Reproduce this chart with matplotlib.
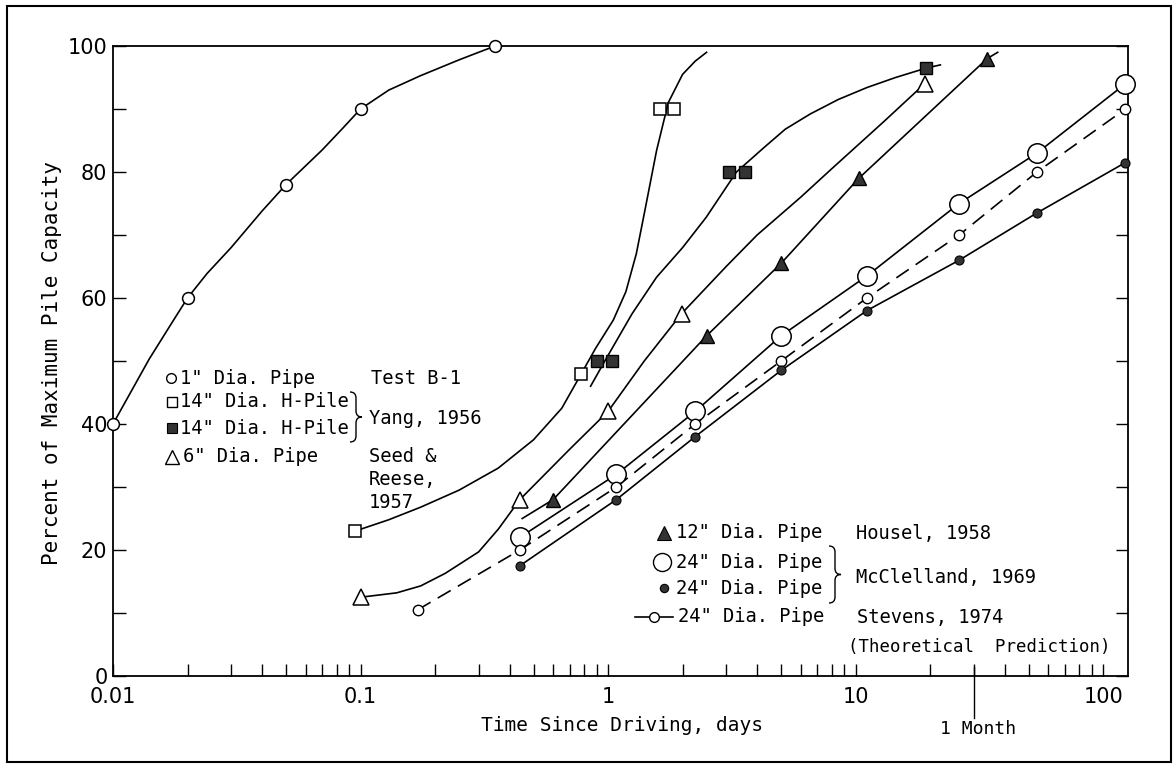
import matplotlib
matplotlib.use("Agg")
import matplotlib.pyplot as plt
from matplotlib.patches import Rectangle, PathPatch
from matplotlib.path import Path

# ---------------- data ----------------
# 1" Dia. Pipe, Test B-1
pipe1_x = [0.01, 0.02, 0.05, 0.1, 0.35]
pipe1_y = [40, 60, 78, 90, 100]
pipe1_curve_x = [0.01, 0.014, 0.017, 0.02, 0.024, 0.03, 0.04, 0.05, 0.07, 0.085, 0.1,
                 0.13, 0.175, 0.25, 0.3, 0.35]
pipe1_curve_y = [40, 50.3, 55.6, 60, 63.9, 68, 73.8, 78, 83.5, 87, 90,
                 93, 95.3, 97.8, 99, 100]

# 14" Dia. H-Pile (open squares), Yang 1956
hopen_x = [0.095, 0.78, 1.62, 1.85]
hopen_y = [23, 48, 90, 90]
hopen_curve_x = [0.095, 0.13, 0.175, 0.25, 0.36, 0.5, 0.65, 0.78, 0.89, 1.05, 1.18, 1.3,
                 1.41, 1.57, 1.75, 2.0, 2.25, 2.5]
hopen_curve_y = [23, 24.8, 26.8, 29.5, 33, 37.5, 42.5, 48, 52, 56.5, 61, 67,
                 74, 83.4, 91, 95.5, 97.6, 99]

# 14" Dia. H-Pile (filled squares), Yang 1956
hfill_x = [0.90, 1.04, 3.08, 3.56, 19.3]
hfill_y = [50, 50, 80, 80, 96.5]
hfill_curve_x = [0.85, 0.97, 1.25, 1.57, 2.0, 2.49, 3.3, 4.27, 5.2, 6.55, 8.5, 11.1, 14.5, 19.3, 22]
hfill_curve_y = [46, 50, 57.5, 63.3, 68, 72.8, 80, 83.9, 86.8, 89.2, 91.5, 93.4, 95, 96.5, 97]

# 6" Dia. Pipe (open triangles), Seed & Reese 1957
pipe6_x = [0.1, 0.44, 1.0, 1.98, 19]
pipe6_y = [12.5, 28, 42, 57.5, 94]
pipe6_curve_x = [0.1, 0.14, 0.175, 0.22, 0.3, 0.36, 0.44, 0.7, 1.0, 1.4, 1.98, 3.0, 4.0, 6.0, 8.0, 13, 19]
pipe6_curve_y = [12.5, 13.2, 14.3, 16.3, 19.7, 23.3, 28, 36, 42, 50, 57.5, 65, 70, 76, 80.5, 88, 94]

# 12" Dia. Pipe (filled triangles), Housel 1958
housel_x = [0.6, 2.5, 5.0, 10.3, 34]
housel_y = [28, 54, 65.5, 79, 98]
housel_curve_x = [0.45, 0.6, 2.5, 5.0, 10.3, 34, 37.5]
housel_curve_y = [25, 28, 54, 65.5, 79, 98, 99]

# 24" Dia. Pipe, McClelland 1969 (large open circles / small filled circles)
mc_open_x = [0.44, 1.08, 2.25, 5.0, 11.1, 26.2, 54, 123]
mc_open_y = [22, 32, 42, 54, 63.5, 75, 83, 94]
mc_fill_x = [0.44, 1.08, 2.25, 5.0, 11.1, 26.2, 54, 123]
mc_fill_y = [17.5, 28, 38, 48.5, 58, 66, 73.5, 81.5]

# 24" Dia. Pipe, Stevens 1974 (theoretical prediction, dashed)
stev_x = [0.17, 0.44, 1.08, 2.25, 5.0, 11.1, 26.2, 54, 123]
stev_y = [10.5, 20, 30, 40, 50, 60, 70, 80, 90]

xticks = [0.01, 0.1, 1, 10, 100]
xticklabels = ["0.01", "0.1", "1", "10", "100"]
yticks = [0, 20, 40, 60, 80, 100]
month_days = 30

# ---------------- figure ----------------
W, H = 1175, 767
fig = plt.figure(figsize=(W / 100, H / 100), dpi=100)
ax = fig.add_axes([113 / W, 1 - 676 / H, 1015 / W, 630 / H])

def fx(px):
    return px / W

def fy(py):
    return 1 - py / H

MONO = "DejaVu Sans Mono"
K = "black"
DARK = "#333333"
lw = 1.2

# curves
ax.plot(pipe1_curve_x, pipe1_curve_y, color=K, lw=lw, zorder=2)
ax.plot(hopen_curve_x, hopen_curve_y, color=K, lw=lw, zorder=2)
ax.plot(hfill_curve_x, hfill_curve_y, color=K, lw=lw, zorder=2)
ax.plot(pipe6_curve_x, pipe6_curve_y, color=K, lw=lw, zorder=2)
ax.plot(housel_curve_x, housel_curve_y, color=K, lw=lw, zorder=2)
ax.plot(mc_open_x, mc_open_y, color=K, lw=lw, zorder=2)
ax.plot(mc_fill_x, mc_fill_y, color=K, lw=lw, zorder=2)
ax.plot(stev_x, stev_y, color=K, lw=lw, ls=(0, (9, 5)), zorder=2)

# markers
ax.plot(pipe1_x, pipe1_y, ls="none", marker="o", ms=8.5, mfc="white", mec=K, mew=1.1, zorder=4, clip_on=False)
ax.plot(hopen_x, hopen_y, ls="none", marker="s", ms=8.5, mfc="white", mec=K, mew=1.1, zorder=4)
ax.plot(hfill_x, hfill_y, ls="none", marker="s", ms=8.5, mfc=DARK, mec=K, mew=1.0, zorder=4)
ax.plot(pipe6_x, pipe6_y, ls="none", marker="^", ms=11, mfc="white", mec=K, mew=1.1, zorder=4)
ax.plot(housel_x, housel_y, ls="none", marker="^", ms=10, mfc=DARK, mec=K, mew=1.0, zorder=4)
ax.plot(mc_open_x, mc_open_y, ls="none", marker="o", ms=14, mfc="white", mec=K, mew=1.1, zorder=3, clip_on=False)
ax.plot(stev_x, stev_y, ls="none", marker="o", ms=7.5, mfc="white", mec=K, mew=1.0, zorder=4, clip_on=False)
ax.plot(mc_fill_x, mc_fill_y, ls="none", marker="o", ms=6.5, mfc=DARK, mec=K, mew=0.8, zorder=5, clip_on=False)

# axes setup
ax.set_xscale("log")
ax.set_xlim(0.01, 126)
ax.set_ylim(0, 100)
ax.set_xticks(xticks)
ax.set_xticklabels(xticklabels)
ax.set_yticks(yticks)
ax.set_yticks([10, 30, 50, 70, 90], minor=True)
ax.tick_params(axis="both", which="both", direction="in", length=9, width=1.0,
               top=False, right=True, labelsize=15)
ax.tick_params(axis="x", which="major", pad=8)
ax.tick_params(axis="y", which="major", pad=4)
for s in ax.spines.values():
    s.set_linewidth(1.3)

ax.set_xlabel("Time Since Driving, days", fontsize=14, family=MONO, va="center")
ax.xaxis.set_label_coords(0.5015, -0.078)
ax.set_ylabel("Percent of Maximum Pile Capacity", fontsize=15, family=MONO, va="center")
ax.yaxis.set_label_coords(-0.060, 0.497)

# 1 month marker
ax.plot([month_days, month_days], [1.5, -6.7], color=K, lw=1.0, clip_on=False)
fig.text(fx(978), fy(729), "1 Month", fontsize=13, family=MONO, ha="center", va="center")

# ---------------- in-plot legend text ----------------
LF = 13.5

def mark(px, py, **kw):
    ax.plot([fx(px)], [fy(py)], transform=fig.transFigure, clip_on=False, ls="none", **kw)

def txt(px, py, s, size=LF):
    fig.text(fx(px), fy(py), s, fontsize=size, family=MONO, ha="left", va="center")

def brace(xl, ytop, ybot, w):
    ym = (ytop + ybot) / 2
    r = w / 2
    xm = xl + w / 2
    pts = [(xl, ytop), (xm, ytop), (xm, ytop + r),
           (xm, ym - r), (xm, ym), (xl + w, ym),
           (xm, ym), (xm, ym + r),
           (xm, ybot - r), (xm, ybot), (xl, ybot)]
    codes = [Path.MOVETO, Path.CURVE3, Path.CURVE3,
             Path.LINETO, Path.CURVE3, Path.CURVE3,
             Path.CURVE3, Path.CURVE3,
             Path.LINETO, Path.CURVE3, Path.CURVE3]
    verts = [(fx(x), fy(y)) for x, y in pts]
    fig.add_artist(PathPatch(Path(verts, codes), fill=False, lw=1.0, ec=K,
                             transform=fig.transFigure))

# left legend block
mark(171, 378, marker="o", ms=7, mfc="white", mec=K, mew=1.0)
txt(180, 378, '1" Dia. Pipe')
txt(371, 378, "Test B-1")
mark(172, 402, marker="s", ms=7, mfc="white", mec=K, mew=1.0)
txt(180, 402, '14" Dia. H-Pile')
mark(172, 428, marker="s", ms=7, mfc=DARK, mec=K, mew=0.8)
txt(180, 428, '14" Dia. H-Pile')
mark(172, 457, marker="^", ms=10, mfc="white", mec=K, mew=1.0)
txt(183, 457, '6" Dia. Pipe')
brace(350, 392, 442, 12)
txt(369, 419, "Yang, 1956")
txt(369, 457, "Seed &")
txt(369, 480, "Reese,")
txt(369, 502, "1957")

# right legend block
mark(664, 533, marker="^", ms=10, mfc=DARK, mec=K, mew=0.8)
txt(676, 533, '12" Dia. Pipe')
txt(856, 533, "Housel, 1958")
mark(662, 562, marker="o", ms=13, mfc="white", mec=K, mew=1.0)
txt(676, 562, '24" Dia. Pipe')
mark(664, 588, marker="o", ms=6, mfc=DARK, mec=K, mew=0.8)
txt(676, 588, '24" Dia. Pipe')
ax.plot([fx(635), fx(654), fx(673)], [fy(617)] * 3, transform=fig.transFigure, clip_on=False,
        color=K, lw=1.2, marker="o", ms=7, mfc="white", mec=K, mew=1.0, markevery=[1])
txt(678, 617, '24" Dia. Pipe')
brace(829, 546, 603, 12)
txt(856, 578, "McClelland, 1969")
txt(857, 617, "Stevens, 1974")
txt(848, 647, "(Theoretical  Prediction)", size=12.5)

# outer frame
fig.add_artist(Rectangle((fx(7), fy(762)), (1171 - 7) / W, (762 - 6) / H, fill=False,
                         lw=1.5, ec=K, transform=fig.transFigure))

fig.savefig("out.png", dpi=100)
